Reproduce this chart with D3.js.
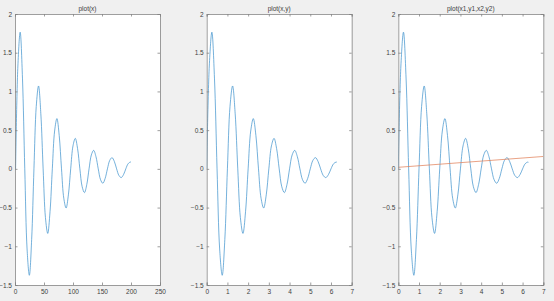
<!DOCTYPE html>
<html>
<head>
<meta charset="utf-8">
<script src="https://cdn.jsdelivr.net/npm/d3@7"></script>
<style>
  body { margin: 0; background: #f0f0f0; }
  svg { display: block; }
  text { font-family: "Liberation Sans", Arial, sans-serif; fill: #404040; }
</style>
</head>
<body>
<svg id="fig"></svg>
<script>
// sample positions (x from 0 to 2*pi)
const xVals = [0, 0.125, 0.25, 0.375, 0.5, 0.625, 0.75, 0.875, 1, 1.125, 1.25, 1.375, 1.5, 1.625, 1.75, 1.875,
  2, 2.125, 2.25, 2.375, 2.5, 2.625, 2.75, 2.875, 3, 3.125, 3.25, 3.375, 3.5, 3.625, 3.75, 3.875,
  4, 4.125, 4.25, 4.375, 4.5, 4.625, 4.75, 4.875, 5, 5.125, 5.25, 5.375, 5.5, 5.625, 5.75, 5.875,
  6, 6.125, 6.25, 6.283];

// same samples as index into the 200-point vector (plot(x) panel)
const idxVals = [1, 4.96, 8.92, 12.88, 16.84, 20.8, 24.75, 28.71, 32.67, 36.63, 40.59, 44.55, 48.51, 52.47, 56.43, 60.39,
  64.35, 68.3, 72.26, 76.22, 80.18, 84.14, 88.1, 92.06, 96.02, 99.98, 103.94, 107.89, 111.85, 115.81, 119.77, 123.73,
  127.69, 131.65, 135.61, 139.57, 143.53, 147.49, 151.44, 155.4, 159.36, 163.32, 167.28, 171.24, 175.2, 179.16, 183.12, 187.08,
  191.04, 194.99, 198.95, 200];

const yVals = [0, 1.3285, 1.765, 1.1724, 0, -1.0347, -1.3746, -0.9131, 0, 0.8058, 1.0705, 0.7111, 0, -0.6275, -0.8337, -0.5538,
  0, 0.4887, 0.6493, 0.4313, 0, -0.3806, -0.5057, -0.3359, 0, 0.2964, 0.3938, 0.2616, 0, -0.2309, -0.3067, -0.2037,
  0, 0.1798, 0.2389, 0.1587, 0, -0.14, -0.186, -0.1236, 0, 0.1091, 0.1449, 0.0962, 0, -0.0849, -0.1128, -0.075,
  0, 0.0661, 0.0879, 0.0845];

// second series of the third panel
const x2Vals = [0, 7];
const y2Vals = [0.02, 0.16];

const titles = ["plot(x)", "plot(x,y)", "plot(x1,y1,x2,y2)"];
const xTicks1 = [0, 50, 100, 150, 200, 250];
const xTicks2 = [0, 1, 2, 3, 4, 5, 6, 7];
const yTicks = [-1.5, -1, -0.5, 0, 0.5, 1, 1.5, 2];

const W = 554, H = 301;
const svg = d3.select("#fig").attr("width", W).attr("height", H);

const panels = [
  { left: 15, xDomain: [0, 250], xTicks: xTicks1, series: [{ x: idxVals, y: yVals, color: "#3a8fcc" }] },
  { left: 206.7, xDomain: [0, 7], xTicks: xTicks2, series: [{ x: xVals, y: yVals, color: "#3a8fcc" }] },
  { left: 398.3, xDomain: [0, 7], xTicks: xTicks2, series: [
      { x: xVals, y: yVals, color: "#3a8fcc" },
      { x: x2Vals, y: y2Vals, color: "#e07a50" }] }
];
const pw = 145, plotTop = 14, plotBottom = 285;
const tickLen = 2.5;
const axisColor = "#858585";

panels.forEach((p, i) => {
  const x = d3.scaleLinear().domain(p.xDomain).range([p.left, p.left + pw]);
  const y = d3.scaleLinear().domain([-1.5, 2]).range([plotBottom, plotTop]);
  const g = svg.append("g");

  g.append("rect")
    .attr("x", p.left).attr("y", plotTop)
    .attr("width", pw).attr("height", plotBottom - plotTop)
    .attr("fill", "#fff");

  const clipId = "clip" + i;
  g.append("clipPath").attr("id", clipId)
    .append("rect").attr("x", p.left).attr("y", plotTop).attr("width", pw).attr("height", plotBottom - plotTop);

  const line = d3.line().curve(d3.curveCatmullRom.alpha(0.5))
    .x(d => x(d[0])).y(d => y(d[1]));

  p.series.forEach(s => {
    g.append("path")
      .datum(s.x.map((v, j) => [v, s.y[j]]))
      .attr("clip-path", `url(#${clipId})`)
      .attr("fill", "none")
      .attr("stroke", s.color)
      .attr("stroke-width", 0.7)
      .attr("d", line);
  });

  // axes: bottom/left with labels, top/right ticks only, all ticks inward
  const bx = d3.axisBottom(x).tickValues(p.xTicks).tickSize(-tickLen).tickPadding(4).tickFormat(d3.format("~g"));
  const tx = d3.axisTop(x).tickValues(p.xTicks).tickSize(-tickLen).tickFormat("");
  const ly = d3.axisLeft(y).tickValues(yTicks).tickSize(-tickLen).tickPadding(3).tickFormat(d3.format("~g"));
  const ry = d3.axisRight(y).tickValues(yTicks).tickSize(-tickLen).tickFormat("");

  const axes = [
    g.append("g").attr("transform", `translate(0,${plotBottom})`).call(bx),
    g.append("g").attr("transform", `translate(0,${plotTop})`).call(tx),
    g.append("g").attr("transform", `translate(${p.left},0)`).call(ly),
    g.append("g").attr("transform", `translate(${p.left + pw},0)`).call(ry)
  ];
  axes.forEach(a => {
    a.select(".domain").attr("stroke", axisColor).attr("stroke-width", 0.8);
    a.selectAll(".tick line").attr("stroke", axisColor).attr("stroke-width", 0.8);
    a.selectAll(".tick text")
      .attr("font-family", "'Liberation Sans', Arial, sans-serif")
      .attr("font-size", 6.5).attr("fill", "#404040");
  });

  g.append("text")
    .attr("x", p.left + pw / 2).attr("y", plotTop - 3)
    .attr("text-anchor", "middle")
    .attr("font-size", 6.5)
    .text(titles[i]);
});
</script>
</body>
</html>
